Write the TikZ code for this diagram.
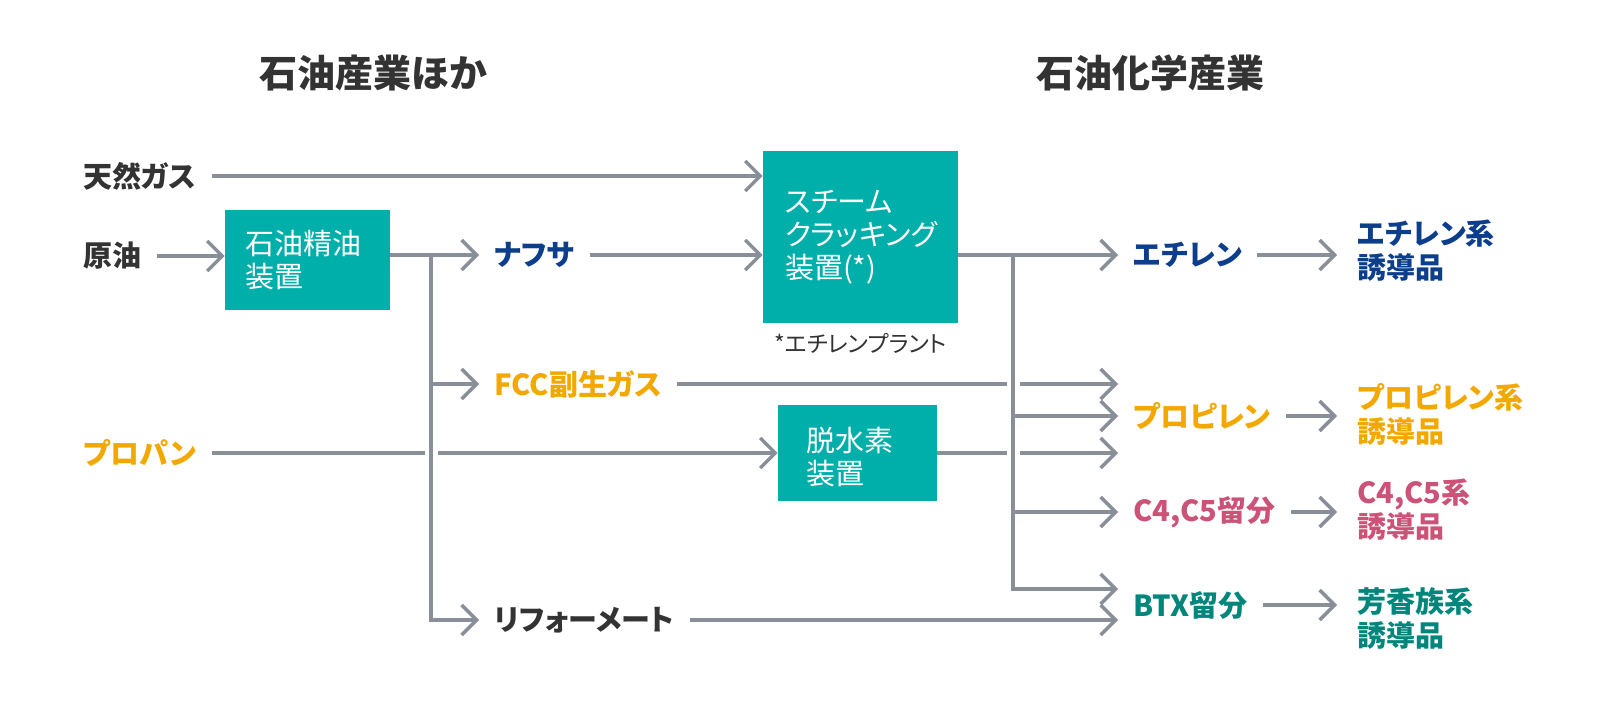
\documentclass[tikz,border=0pt]{standalone}
\usepackage{fontspec}
\setmainfont{Noto Sans CJK JP}[RawFeature={+palt}]
\usetikzlibrary{arrows.meta,positioning}

\definecolor{plantteal}{RGB}{0,174,170}
\definecolor{flowgray}{RGB}{137,143,153}
\definecolor{textdark}{RGB}{51,51,51}
\definecolor{ethnavy}{RGB}{12,62,140}
\definecolor{propyorange}{RGB}{243,168,0}
\definecolor{cfourpink}{RGB}{204,82,120}
\definecolor{aroteal}{RGB}{0,134,122}

\begin{document}
\begin{tikzpicture}
    [x=0.5pt, y=-0.5pt, font=\bfseries\fontsize{14.5}{17}\selectfont, text=textdark,
    % STYLES
    % The heading style is used for the two industry titles
    heading/.style={font=\bfseries\fontsize{19}{23}\selectfont},
    % The plant style is used to draw the processing units
    plant/.style={rectangle, fill=plantteal, text=white, align=left, inner xsep=10pt, font=\fontsize{14.5}{16.5}\selectfont},
    % The stream style is used for feedstocks and intermediate products
    stream/.style={anchor=west, inner xsep=7.5pt, inner ysep=2pt},
    % The product style is used for the derivatives
    product/.style={anchor=west, align=left, inner xsep=10pt},
    % The flow style is used for every connector
    flow/.style={draw=flowgray, line width=1.7pt, -{Straight Barb[length=7.5pt,width=15pt]}},
    % The bridge style leaves a gap where a line is crossed
    bridge/.style={preaction={draw=white, line width=6.5pt, arrows=-}}]

    \useasboundingbox (0,0) rectangle (1601,710);

    % Titles
    \node[heading] (oil) at (373,73) {石油産業ほか};
    \node[heading] (chem) at (1150,73) {石油化学産業};

    % Plants
    \node[plant, minimum width=82.5pt, minimum height=50pt, text width=62.5pt] (refinery) at (307.5,260) {石油精油\\装置};
    \node[plant, minimum width=97.5pt, minimum height=86pt, text width=75.5pt, inner xsep=11pt] (steam) at (860.5,237) {スチーム\\クラッキング\\装置(*)};
    \node[plant, minimum width=79.5pt, minimum height=48pt, text width=51.5pt, inner xsep=14pt] (dehydro) at (857.5,453) {\rule{0pt}{16pt}脱水素\\装置};
    \node[font=\fontsize{11.5}{13}\selectfont, below=1.5pt of steam] (note) {*エチレンプラント};

    % Feedstocks and streams
    \node[stream] (gas) at (68,176) {天然ガス};
    \node[stream] (crude) at (68,256) {原油};
    \node[stream, text=propyorange] (propane) at (68,453) {プロパン};
    \node[stream, text=ethnavy] (naphtha) at (479,255) {ナフサ};
    \node[stream, text=propyorange] (fcc) at (479,384) {FCC副生ガス};
    \node[stream] (reformate) at (479,620) {リフォーメート};
    \node[stream, text=ethnavy] (ethylene) at (1118,255) {エチレン};
    \node[stream, text=propyorange] (propylene) at (1118,416) {プロピレン};
    \node[stream, text=cfourpink] (cfour) at (1118,512) {C4,C5留分};
    \node[stream, text=aroteal] (btx) at (1118,605) {BTX留分};

    % Derivatives
    \node[product, text=ethnavy] (ethder) at (1337,251) {エチレン系\\誘導品};
    \node[product, text=propyorange] (propder) at (1337,414) {プロピレン系\\誘導品};
    \node[product, text=cfourpink] (cfourder) at (1337,510) {C4,C5系\\誘導品};
    \node[product, text=aroteal] (btxder) at (1337,618) {芳香族系\\誘導品};

    \coordinate (split) at (431,255);
    \coordinate (hub) at (1013,255);

    % Crossed lines first
    \draw[flow] (propane.east) -- (propane.east -| dehydro.west);
    \draw[flow] (fcc.east) -- (fcc.east -| propylene.west);
    \draw[flow] (dehydro.east) -- (dehydro.east -| propylene.west);

    % Trunks
    \draw[flow, bridge] (split) |- (reformate.west);
    \draw[flow, bridge] (hub) |- ([yshift=8pt]btx.west);

    % Other flows
    \draw[flow] (gas.east) -- (gas.east -| steam.west);
    \draw[flow] (crude.east) -- (crude.east -| refinery.west);
    \draw[flow] (refinery.east |- naphtha.west) -- (naphtha.west);
    \draw[flow] (split |- fcc.west) -- (fcc.west);
    \draw[flow] (naphtha.east) -- (naphtha.east -| steam.west);
    \draw[flow] (steam.east |- ethylene.west) -- (ethylene.west);
    \draw[flow] (hub |- propylene.west) -- (propylene.west);
    \draw[flow] (hub |- cfour.west) -- (cfour.west);
    \draw[flow] (reformate.east) -- (reformate.east -| btx.west);
    \draw[flow] (ethylene.east) -- (ethylene.east -| ethder.west);
    \draw[flow] (propylene.east) -- (propylene.east -| propder.west);
    \draw[flow] (cfour.east) -- (cfour.east -| cfourder.west);
    \draw[flow] (btx.east) -- (btx.east -| btxder.west);
\end{tikzpicture}
\end{document}
